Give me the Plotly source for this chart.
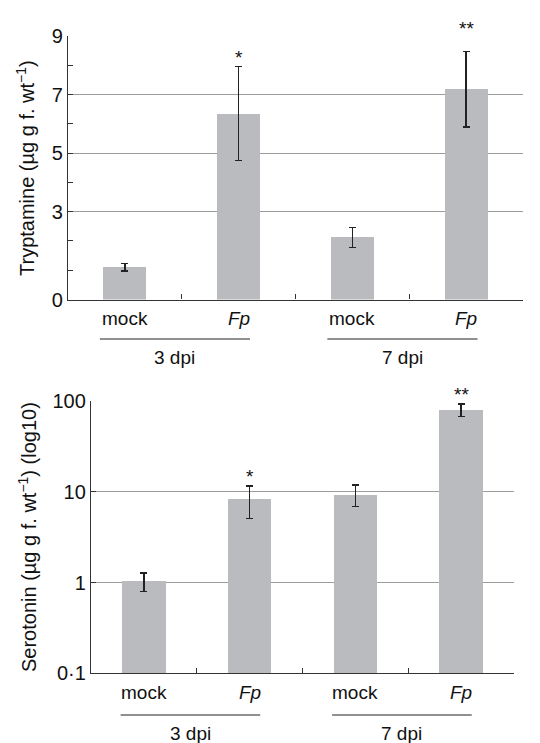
import math
import plotly.graph_objects as go

# ---- data ----
cat_labels = ["mock", "<i>Fp</i>", "mock", "<i>Fp</i>"]
groups = ["3 dpi", "7 dpi"]

tryp_vals = [1.10, 6.35, 2.12, 7.18]
tryp_err = [0.13, 1.60, 0.34, 1.29]
tryp_stars = ["", "*", "", "**"]
tryp_star_shift = [0, 15, 0, 29]

sero_vals = [1.04, 8.3, 9.2, 79.6]
sero_err_plus = [0.23, 3.3, 2.65, 13.1]
sero_err_minus = [0.24, 3.2, 2.37, 11.9]
sero_stars = ["", "*", "", "**"]
sero_star_shift = [0, 15, 0, 15]

top_yticks = [0, 3, 5, 7, 9]
bot_yticks = [0.1, 1, 10, 100]
bot_yticktext = ["0·1", "1", "10", "100"]

W, H = 540, 743
OFF = 8  # default page body margin
FONT = "Liberation Sans, Arial, sans-serif"
BAR = "#babbbf"
AX = "#333333"
GRID = "#9c9c9c"
FS = 19
TFS = 20

xpos = list(range(len(cat_labels)))

def px(xp):
    return (xp - OFF) / W

def py(yp):
    return 1 - (yp - OFF) / H

fig = go.Figure()

fig.add_trace(go.Bar(
    x=xpos, y=tryp_vals, width=0.38, marker=dict(color=BAR, line=dict(width=0)),
    error_y=dict(type="data", array=tryp_err, color="#222222", thickness=1.3, width=3.5),
    xaxis="x", yaxis="y", showlegend=False))

fig.add_trace(go.Bar(
    x=xpos, y=sero_vals, width=0.41, marker=dict(color=BAR, line=dict(width=0)),
    error_y=dict(type="data", symmetric=False, array=sero_err_plus, arrayminus=sero_err_minus,
                 color="#222222", thickness=1.3, width=3.5),
    xaxis="x2", yaxis="y2", showlegend=False))

xcommon = dict(range=[-0.5, 3.5], tickmode="array", tickvals=[0.5, 1.5, 2.5, 3.5],
               ticks="inside", ticklen=5, tickcolor=AX, tickwidth=1.2,
               showticklabels=False, showline=True, linecolor=AX, linewidth=1.3,
               showgrid=False, zeroline=False, fixedrange=True, automargin=False)

ycommon = dict(ticks="inside", ticklen=5, tickcolor=AX, tickwidth=1.2,
               tickfont=dict(size=TFS), showline=True, linecolor=AX, linewidth=1.3,
               showgrid=True, gridcolor=GRID, gridwidth=1, zeroline=False,
               fixedrange=True, automargin=False)

fig.update_layout(
    template="none",
    width=W, height=H, margin=dict(l=0, r=0, t=0, b=0, autoexpand=False),
    paper_bgcolor="white", plot_bgcolor="white",
    font=dict(family=FONT, size=FS, color="#111111"),
    bargap=0,
    xaxis=dict(domain=[px(68), px(523)], anchor="y", **xcommon),
    yaxis=dict(domain=[py(299.5), py(36)], anchor="x", range=[0, 9],
               tickmode="array", tickvals=top_yticks,
               minor=dict(tick0=0, dtick=1, ticks="inside", ticklen=5, tickcolor=AX,
                          tickwidth=1.2, showgrid=False),
               **ycommon),
    xaxis2=dict(domain=[px(91), px(514)], anchor="y2", **xcommon),
    yaxis2=dict(domain=[py(673.3), py(401)], anchor="x2", type="log", range=[-1, 2],
                tickmode="array", tickvals=bot_yticks, ticktext=bot_yticktext,
                **ycommon),
)

ann = []
shapes = []
# category labels
for i, lab in enumerate(cat_labels):
    ann.append(dict(x=i, xref="x", y=py(318), yref="paper", text=lab, showarrow=False,
                    xanchor="center", yanchor="middle"))
    ann.append(dict(x=i, xref="x2", y=py(692), yref="paper", text=lab, showarrow=False,
                    xanchor="center", yanchor="middle"))
# group underline and labels
for g, lab in enumerate(groups):
    c = 2 * g + 0.44
    for xr, yl, yt in (("x", 339, 357), ("x2", 715, 733)):
        shapes.append(dict(type="line", xref=xr, yref="paper", x0=c - 0.66, x1=c + 0.66,
                           y0=py(yl), y1=py(yl), line=dict(color="#222222", width=1.2)))
        ann.append(dict(x=c, xref=xr, y=py(yt), yref="paper", text=lab, showarrow=False,
                        xanchor="center", yanchor="middle"))
# stars (placed above error bar tops)
GLYPH = 6
for i, s in enumerate(tryp_stars):
    if s:
        ann.append(dict(x=i, xref="x", y=tryp_vals[i] + tryp_err[i], yref="y", text=s,
                        showarrow=False, xanchor="center", yanchor="middle",
                        yshift=tryp_star_shift[i] - GLYPH))
for i, s in enumerate(sero_stars):
    if s:
        ann.append(dict(x=i, xref="x2", y=math.log10(sero_vals[i] + sero_err_plus[i]),
                        yref="y2", text=s, showarrow=False, xanchor="center",
                        yanchor="middle", yshift=sero_star_shift[i] - GLYPH))
# y titles
ann.append(dict(x=px(25), y=py(168), xref="paper", yref="paper", textangle=-90,
                text="Tryptamine (µg g f. wt<sup>−1</sup>)", showarrow=False,
                font=dict(size=20), xanchor="center", yanchor="middle"))
ann.append(dict(x=px(27), y=py(537), xref="paper", yref="paper", textangle=-90,
                text="Serotonin (µg g f. wt<sup>−1</sup>) (log10)", showarrow=False,
                font=dict(size=20), xanchor="center", yanchor="middle"))

fig.update_layout(annotations=ann, shapes=shapes)
fig.write_html("out.html")
